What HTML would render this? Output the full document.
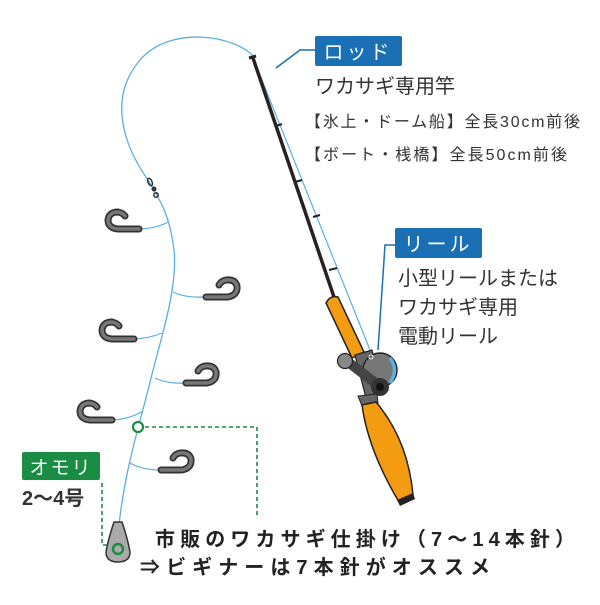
<!DOCTYPE html>
<html><head><meta charset="utf-8"><style>
body{margin:0;background:#fff}
.t{font-family:"Liberation Sans","Noto Sans CJK JP",sans-serif;fill:#333}
</style></head><body>
<svg width="600" height="600" viewBox="0 0 600 600" xmlns="http://www.w3.org/2000/svg">
<path d="M254,57 C235,35 170,25 140,60 C110,95 120,140 148,180 C160,200 170,215 174,250 C178,290 160,340 148,390 C138,430 125,470 119,525" fill="none" stroke="#5aafe6" stroke-width="1.3"/>
<path d="M254,60 L378,370" fill="none" stroke="#5aafe6" stroke-width="1.2"/>
<g stroke="#333" stroke-width="1.5" fill="none"><ellipse cx="150" cy="182" rx="2" ry="4" transform="rotate(-25 150 182)"/><circle cx="156" cy="195" r="2.2"/></g>
<circle cx="154" cy="189" r="2.5" fill="#333"/>
<g fill="none" stroke="#5aafe6" stroke-width="1.2">
<path d="M168,222 Q158,228 140,229"/><path d="M173,292 Q185,298 205,297"/>
<path d="M162,333 Q150,338 135,339"/><path d="M155,378 Q167,384 185,383"/>
<path d="M143,411 Q130,419 113,420"/><path d="M130,463 Q143,470 160,470"/>
</g>
<g fill="none" stroke-linecap="round">
<g stroke="#333" stroke-width="7">
<path d="M139,229 L118,229 Q108,228 108,220 Q109,212 118,212 Q123,213 125,216"/>
<path d="M206,297 L228,297 Q238,295 237,286 Q235,279 226,280 Q221,281 219,285"/>
<path d="M134,339 L112,339 Q102,338 102,330 Q103,322 112,322 Q117,323 119,326"/>
<path d="M186,383 L207,383 Q217,381 216,372 Q214,365 205,366 Q200,367 198,371"/>
<path d="M112,420 L90,420 Q80,419 80,411 Q81,403 90,403 Q95,404 97,407"/>
<path d="M161,470 L182,470 Q192,468 191,459 Q189,452 180,453 Q175,454 173,458"/>
</g>
<g stroke="#777" stroke-width="3.5">
<path d="M139,229 L118,229 Q108,228 108,220 Q109,212 118,212 Q123,213 125,216"/>
<path d="M206,297 L228,297 Q238,295 237,286 Q235,279 226,280 Q221,281 219,285"/>
<path d="M134,339 L112,339 Q102,338 102,330 Q103,322 112,322 Q117,323 119,326"/>
<path d="M186,383 L207,383 Q217,381 216,372 Q214,365 205,366 Q200,367 198,371"/>
<path d="M112,420 L90,420 Q80,419 80,411 Q81,403 90,403 Q95,404 97,407"/>
<path d="M161,470 L182,470 Q192,468 191,459 Q189,452 180,453 Q175,454 173,458"/>
</g></g>
<path d="M145,427 L257,427 L257,515" fill="none" stroke="#1a8c44" stroke-width="1.6" stroke-dasharray="4,3"/>
<path d="M102,483 L102,545 L112,545" fill="none" stroke="#1a8c44" stroke-width="1.6" stroke-dasharray="4,3"/>
<circle cx="138" cy="427" r="5" fill="#fff" stroke="#1a8c44" stroke-width="2.2"/>
<path d="M114,522 L122,522 Q128,540 130,552 Q130,562 118,562 Q106,562 106,552 Q108,540 114,522Z" fill="#aaa" stroke="#333" stroke-width="1.5"/>
<circle cx="118" cy="549" r="5" fill="none" stroke="#1a8c44" stroke-width="2.5"/>
<path d="M253,58 L335,300" stroke="#2a2020" stroke-width="3.5"/>
<path d="M249,58 L256,56" stroke="#2a2020" stroke-width="3"/>
<g stroke="#2a2020" stroke-width="2"><path d="M276,126 L282,124"/><path d="M295,182 L302,180"/><path d="M313,217 L320,215"/><path d="M329,270 L337,268"/></g>
<path d="M326,303 Q330,295 338,297 L364,352 L352,358 Z" fill="#f39c11" stroke="#222" stroke-width="1.5"/>
<path d="M355,355 L372,350 L378,392 L366,398 Z" fill="#666" stroke="#222" stroke-width="1.2"/>
<circle cx="380" cy="370" r="17" fill="#777" stroke="#222" stroke-width="1.5"/>
<path d="M390,358 Q399,370 390,383" stroke="#5aafe6" stroke-width="3.5" fill="none"/>
<path d="M348,362 L378,385" stroke="#444" stroke-width="10" stroke-linecap="round"/>
<circle cx="345" cy="361" r="7.5" fill="#888" stroke="#222" stroke-width="1.2"/>
<circle cx="380" cy="387" r="9" fill="#333"/><circle cx="380" cy="387" r="4" fill="#111"/>
<circle cx="371" cy="357" r="2" fill="none" stroke="#fff" stroke-width="1"/>
<path d="M358,396 L377,394 L378,403 L362,406 Z" fill="#666" stroke="#222"/>
<path d="M362,405 L376,402 Q408,440 413,495 L399,502 Q368,450 362,405Z" fill="#f39c11" stroke="#222" stroke-width="1.5"/>
<path d="M397,500 L413,493 L415,499 L400,506 Z" fill="#222"/>
<path d="M276,68 L300,50 L316,50" fill="none" stroke="#1a6fb5" stroke-width="1.5"/>
<path d="M378,350 L385,245 L396,245" fill="none" stroke="#1a6fb5" stroke-width="1.5"/>
<rect x="315" y="36" width="87" height="30" rx="2" fill="#1a6fb5"/>
<text x="358" y="59" class="t" style="fill:#fff" font-size="20" text-anchor="middle" letter-spacing="3">ロッド</text>
<rect x="395" y="228" width="87" height="30" rx="2" fill="#1a6fb5"/>
<text x="438" y="251" class="t" style="fill:#fff" font-size="20" text-anchor="middle" letter-spacing="3">リール</text>
<rect x="22" y="452" width="78" height="28" rx="2" fill="#1a8c44"/>
<text x="61" y="474" class="t" style="fill:#fff" font-size="19" text-anchor="middle" letter-spacing="2">オモリ</text>
<text x="315" y="93" class="t" font-size="20">ワカサギ専用竿</text>
<text x="305" y="127" class="t" font-size="16" textLength="275" lengthAdjust="spacing">【氷上・ドーム船】全長30cm前後</text>
<text x="305" y="160" class="t" font-size="16" textLength="262" lengthAdjust="spacing">【ボート・桟橋】全長50cm前後</text>
<text x="398" y="285" class="t" font-size="20">小型リールまたは</text>
<text x="398" y="314" class="t" font-size="20">ワカサギ専用</text>
<text x="398" y="343" class="t" font-size="20">電動リール</text>
<text x="22" y="505" class="t" font-size="20" font-weight="bold">2〜4号</text>
<text x="155" y="546" class="t" font-size="20" font-weight="bold" style="fill:#222" textLength="420" lengthAdjust="spacing">市販のワカサギ仕掛け（7〜14本針）</text>
<text x="140" y="574" class="t" font-size="20" font-weight="bold" style="fill:#222" textLength="350" lengthAdjust="spacing">⇒ビギナーは7本針がオススメ</text>
</svg>
</body></html>
